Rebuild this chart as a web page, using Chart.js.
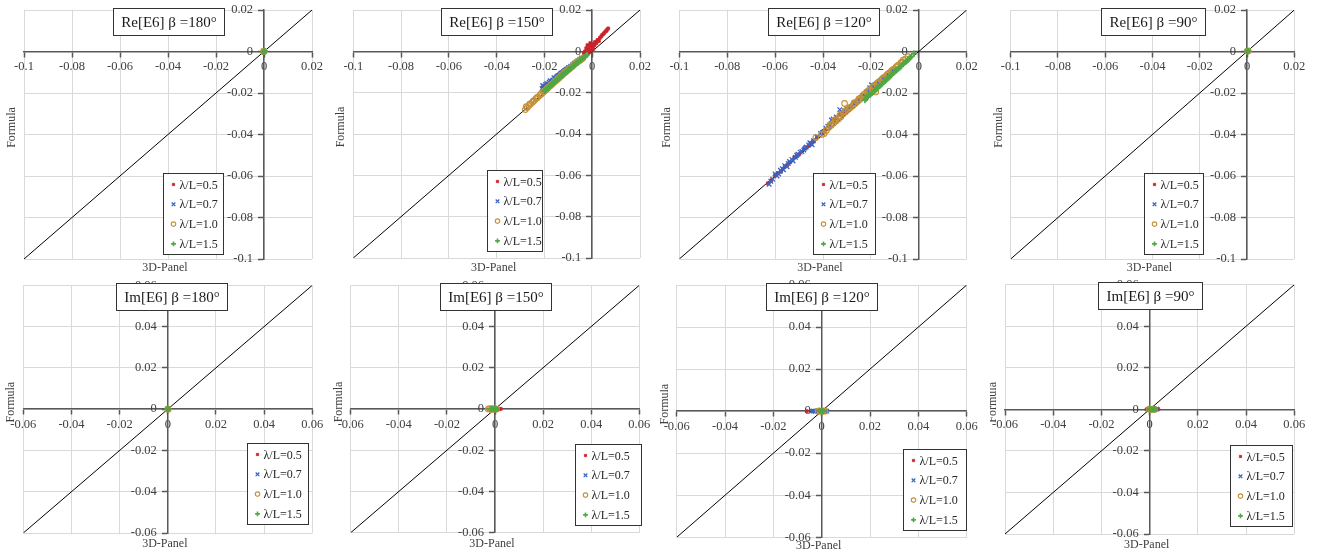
<!DOCTYPE html>
<html>
<head>
<meta charset="utf-8">
<script src="https://cdn.jsdelivr.net/npm/chart.js@4.4.1/dist/chart.umd.min.js"></script>
<style>
html, body { margin: 0; padding: 0; background: #fff; }
#wrap { position: relative; width: 1319px; height: 555px; overflow: hidden; }
#wrap canvas { position: absolute; }
</style>
</head>
<body>
<div id="wrap"></div>
<script>
// ---- data (x = 3D-Panel, y = Formula) ----
var seriesLabels = ['λ/L=0.5', 'λ/L=0.7', 'λ/L=1.0', 'λ/L=1.5'];
var panelTitles = ['Re[E6] β =180°', 'Re[E6] β =150°', 'Re[E6] β =120°', 'Re[E6] β =90°',
                   'Im[E6] β =180°', 'Im[E6] β =150°', 'Im[E6] β =120°', 'Im[E6] β =90°'];
var reRange = [-0.1, 0.02];
var imRange = [-0.06, 0.06];
var tickStep = 0.02;

// Re[E6], beta = 180
var re180_05 = [[0.0003, 0.0002], [-0.0002, 0.0001], [0.0001, -0.0002]];
var re180_07 = [[0.0002, -0.0001], [-0.0003, 0.0002]];
var re180_10 = [[0.0001, 0.0001], [-0.0002, -0.0001]];
var re180_15 = [[0, 0], [0.0003, 0.0002], [-0.0003, -0.0002]];

// Re[E6], beta = 150
var re150_05 = [[-0.0030, 0.0000], [-0.0025, 0.0015], [-0.0020, 0.0030], [-0.0015, 0.0010], [-0.0010, 0.0025],
  [-0.0008, 0.0040], [-0.0005, 0.0005], [0.0000, 0.0020], [0.0002, 0.0035], [0.0005, 0.0012], [0.0010, 0.0030],
  [0.0012, 0.0045], [0.0018, 0.0040], [0.0022, 0.0055], [0.0028, 0.0050], [0.0032, 0.0065], [0.0038, 0.0072],
  [0.0042, 0.0080], [0.0048, 0.0085], [0.0052, 0.0092], [0.0058, 0.0098], [0.0062, 0.0104], [0.0067, 0.0111],
  [-0.0035, -0.0008], [-0.0012, -0.0005]];
var re150_07 = [[-0.0210, -0.0180], [-0.0207, -0.0165], [-0.0205, -0.0170], [-0.0200, -0.0175], [-0.0198, -0.0168],
  [-0.0195, -0.0160], [-0.0190, -0.0155], [-0.0188, -0.0165], [-0.0183, -0.0158], [-0.0180, -0.0150],
  [-0.0176, -0.0142], [-0.0172, -0.0148], [-0.0168, -0.0144], [-0.0165, -0.0138], [-0.0160, -0.0128],
  [-0.0158, -0.0132], [-0.0153, -0.0130], [-0.0150, -0.0125], [-0.0146, -0.0120], [-0.0142, -0.0118],
  [-0.0138, -0.0116], [-0.0135, -0.0112], [-0.0131, -0.0106], [-0.0128, -0.0105], [-0.0124, -0.0102],
  [-0.0120, -0.0098], [-0.0116, -0.0094], [-0.0112, -0.0092], [-0.0108, -0.0088], [-0.0105, -0.0085],
  [-0.0100, -0.0080], [-0.0098, -0.0078], [-0.0090, -0.0072], [-0.0082, -0.0065], [-0.0075, -0.0058],
  [-0.0068, -0.0052], [-0.0060, -0.0045], [-0.0052, -0.0038], [-0.0045, -0.0032]];
var re150_10 = [[-0.0280, -0.0282], [-0.0276, -0.0268], [-0.0272, -0.0272], [-0.0265, -0.0262], [-0.0261, -0.0254],
  [-0.0258, -0.0255], [-0.0250, -0.0246], [-0.0246, -0.0240], [-0.0243, -0.0238], [-0.0236, -0.0230],
  [-0.0232, -0.0225], [-0.0228, -0.0222], [-0.0220, -0.0214], [-0.0216, -0.0208], [-0.0212, -0.0205],
  [-0.0205, -0.0198], [-0.0201, -0.0192], [-0.0197, -0.0190], [-0.0190, -0.0182], [-0.0186, -0.0176],
  [-0.0182, -0.0174], [-0.0175, -0.0166], [-0.0171, -0.0160], [-0.0167, -0.0158], [-0.0160, -0.0150],
  [-0.0156, -0.0145], [-0.0152, -0.0142], [-0.0145, -0.0135], [-0.0141, -0.0130], [-0.0137, -0.0127],
  [-0.0130, -0.0119], [-0.0126, -0.0114], [-0.0122, -0.0111], [-0.0115, -0.0104], [-0.0111, -0.0099],
  [-0.0107, -0.0096], [-0.0100, -0.0089], [-0.0096, -0.0084], [-0.0092, -0.0081], [-0.0085, -0.0074],
  [-0.0081, -0.0070], [-0.0077, -0.0066], [-0.0070, -0.0059], [-0.0066, -0.0055], [-0.0062, -0.0052],
  [-0.0055, -0.0046], [-0.0051, -0.0043], [-0.0047, -0.0040], [-0.0040, -0.0034]];
var re150_15 = [[-0.0200, -0.0192], [-0.0196, -0.0190], [-0.0192, -0.0184], [-0.0188, -0.0178], [-0.0185, -0.0176],
  [-0.0181, -0.0174], [-0.0177, -0.0168], [-0.0170, -0.0160], [-0.0166, -0.0158], [-0.0162, -0.0152],
  [-0.0158, -0.0148], [-0.0155, -0.0145], [-0.0151, -0.0142], [-0.0147, -0.0137], [-0.0140, -0.0130],
  [-0.0136, -0.0127], [-0.0132, -0.0122], [-0.0128, -0.0117], [-0.0125, -0.0115], [-0.0121, -0.0112],
  [-0.0117, -0.0107], [-0.0110, -0.0100], [-0.0106, -0.0098], [-0.0102, -0.0092], [-0.0098, -0.0088],
  [-0.0095, -0.0085], [-0.0091, -0.0083], [-0.0087, -0.0078], [-0.0080, -0.0070], [-0.0076, -0.0068],
  [-0.0072, -0.0063], [-0.0068, -0.0060], [-0.0065, -0.0056], [-0.0061, -0.0053], [-0.0057, -0.0049],
  [-0.0050, -0.0042], [-0.0046, -0.0040], [-0.0042, -0.0035], [-0.0035, -0.0029], [-0.0031, -0.0027],
  [-0.0028, -0.0023], [-0.0022, -0.0018]];

// Re[E6], beta = 120
var re120_05 = [[-0.0630, -0.0635], [-0.0615, -0.0620], [-0.0600, -0.0595], [-0.0588, -0.0585], [-0.0575, -0.0580],
  [-0.0560, -0.0555], [-0.0550, -0.0548], [-0.0540, -0.0535], [-0.0520, -0.0510], [-0.0510, -0.0505],
  [-0.0500, -0.0495], [-0.0480, -0.0470], [-0.0470, -0.0462], [-0.0460, -0.0455], [-0.0450, -0.0440],
  [-0.0440, -0.0430], [-0.0425, -0.0412], [-0.0410, -0.0395], [-0.0400, -0.0385], [-0.0390, -0.0375],
  [-0.0375, -0.0355], [-0.0360, -0.0340], [-0.0345, -0.0322], [-0.0330, -0.0305], [-0.0315, -0.0292],
  [-0.0300, -0.0280], [-0.0285, -0.0265], [-0.0270, -0.0250], [-0.0255, -0.0235], [-0.0240, -0.0220],
  [-0.0228, -0.0208], [-0.0215, -0.0195], [-0.0200, -0.0182], [-0.0190, -0.0170], [-0.0175, -0.0158],
  [-0.0160, -0.0145], [-0.0145, -0.0130], [-0.0130, -0.0115]];
var re120_07 = [[-0.0625, -0.0640], [-0.0618, -0.0625], [-0.0610, -0.0615], [-0.0600, -0.0590], [-0.0592, -0.0600],
  [-0.0585, -0.0590], [-0.0578, -0.0572], [-0.0570, -0.0565], [-0.0565, -0.0570], [-0.0560, -0.0550],
  [-0.0550, -0.0555], [-0.0545, -0.0540], [-0.0540, -0.0530], [-0.0530, -0.0520], [-0.0525, -0.0528],
  [-0.0515, -0.0510], [-0.0510, -0.0500], [-0.0505, -0.0495], [-0.0495, -0.0485], [-0.0488, -0.0482],
  [-0.0480, -0.0475], [-0.0475, -0.0465], [-0.0470, -0.0460], [-0.0460, -0.0450], [-0.0455, -0.0440],
  [-0.0450, -0.0445], [-0.0445, -0.0450], [-0.0440, -0.0430], [-0.0425, -0.0410], [-0.0410, -0.0395],
  [-0.0402, -0.0390], [-0.0395, -0.0385], [-0.0388, -0.0370], [-0.0380, -0.0360], [-0.0372, -0.0355],
  [-0.0365, -0.0330], [-0.0358, -0.0325], [-0.0350, -0.0335], [-0.0345, -0.0315], [-0.0340, -0.0320],
  [-0.0330, -0.0280], [-0.0325, -0.0300], [-0.0318, -0.0295], [-0.0310, -0.0285], [-0.0302, -0.0275],
  [-0.0295, -0.0280], [-0.0288, -0.0270], [-0.0280, -0.0265], [-0.0272, -0.0250], [-0.0265, -0.0245],
  [-0.0258, -0.0240], [-0.0250, -0.0230], [-0.0242, -0.0222], [-0.0235, -0.0215], [-0.0228, -0.0210],
  [-0.0220, -0.0195], [-0.0212, -0.0190], [-0.0205, -0.0175], [-0.0198, -0.0160], [-0.0190, -0.0165],
  [-0.0182, -0.0160], [-0.0175, -0.0155], [-0.0168, -0.0148], [-0.0160, -0.0140], [-0.0152, -0.0130],
  [-0.0145, -0.0125], [-0.0138, -0.0120], [-0.0130, -0.0110], [-0.0122, -0.0102], [-0.0115, -0.0095],
  [-0.0108, -0.0090], [-0.0100, -0.0085]];
var re120_10 = [[-0.0430, -0.0415], [-0.0405, -0.0400], [-0.0395, -0.0395], [-0.0385, -0.0380], [-0.0375, -0.0365],
  [-0.0370, -0.0352], [-0.0365, -0.0355], [-0.0355, -0.0345], [-0.0350, -0.0330], [-0.0345, -0.0335],
  [-0.0335, -0.0325], [-0.0330, -0.0308], [-0.0325, -0.0315], [-0.0315, -0.0300], [-0.0310, -0.0250],
  [-0.0310, -0.0288], [-0.0305, -0.0290], [-0.0295, -0.0280], [-0.0290, -0.0270], [-0.0285, -0.0270],
  [-0.0275, -0.0260], [-0.0270, -0.0248], [-0.0265, -0.0250], [-0.0255, -0.0240], [-0.0250, -0.0228],
  [-0.0245, -0.0230], [-0.0235, -0.0215], [-0.0230, -0.0208], [-0.0225, -0.0205], [-0.0215, -0.0195],
  [-0.0210, -0.0188], [-0.0205, -0.0185], [-0.0195, -0.0175], [-0.0190, -0.0168], [-0.0185, -0.0165],
  [-0.0180, -0.0195], [-0.0175, -0.0155], [-0.0170, -0.0150], [-0.0165, -0.0145], [-0.0155, -0.0135],
  [-0.0150, -0.0130], [-0.0145, -0.0125], [-0.0135, -0.0115], [-0.0130, -0.0110], [-0.0125, -0.0105],
  [-0.0115, -0.0095], [-0.0110, -0.0090], [-0.0105, -0.0085], [-0.0095, -0.0075], [-0.0090, -0.0070],
  [-0.0085, -0.0065], [-0.0075, -0.0055], [-0.0070, -0.0050], [-0.0065, -0.0042], [-0.0055, -0.0035],
  [-0.0045, -0.0025]];
var re120_15 = [[-0.0225, -0.0235], [-0.0220, -0.0228], [-0.0215, -0.0220], [-0.0210, -0.0210], [-0.0205, -0.0210],
  [-0.0200, -0.0206], [-0.0195, -0.0200], [-0.0185, -0.0190], [-0.0180, -0.0186], [-0.0175, -0.0178],
  [-0.0170, -0.0168], [-0.0165, -0.0168], [-0.0160, -0.0164], [-0.0155, -0.0158], [-0.0145, -0.0146],
  [-0.0140, -0.0142], [-0.0135, -0.0136], [-0.0130, -0.0128], [-0.0125, -0.0125], [-0.0120, -0.0120],
  [-0.0115, -0.0114], [-0.0105, -0.0103], [-0.0100, -0.0098], [-0.0095, -0.0092], [-0.0090, -0.0085],
  [-0.0085, -0.0082], [-0.0080, -0.0078], [-0.0075, -0.0072], [-0.0065, -0.0060], [-0.0060, -0.0056],
  [-0.0055, -0.0050], [-0.0050, -0.0045], [-0.0045, -0.0040], [-0.0040, -0.0034], [-0.0035, -0.0028],
  [-0.0030, -0.0024], [-0.0020, -0.0010]];

// Re[E6], beta = 90
var re90_05 = [[0.0004, 0.0002], [0.0001, -0.0001]];
var re90_07 = [[0.0003, 0.0001], [-0.0001, 0.0001]];
var re90_10 = [[0.0002, 0.0002], [0.0005, 0.0003]];
var re90_15 = [[0.0002, 0.0001], [0.0005, 0.0002], [0, 0]];

// Im[E6], beta = 180
var im180_05 = [[0.0002, 0], [-0.0001, 0.0001]];
var im180_07 = [[0.0001, 0], [-0.0002, 0]];
var im180_10 = [[0, 0.0001], [0.0002, -0.0001]];
var im180_15 = [[0, 0], [0.0002, 0.0001], [-0.0002, 0]];

// Im[E6], beta = 150
var im150_05 = [[0.0008, 0.0001], [0.0012, 0.0000], [0.0018, -0.0001], [0.0024, 0.0001]];
var im150_07 = [[-0.0012, 0.0001], [-0.0006, -0.0001], [0.0000, 0.0000], [0.0006, 0.0001]];
var im150_10 = [[-0.0028, 0.0000], [-0.0022, 0.0002], [-0.0016, -0.0002], [-0.0010, 0.0002], [-0.0004, -0.0001],
  [0.0002, 0.0001], [0.0007, 0.0000]];
var im150_15 = [[-0.0018, 0.0000], [-0.0012, 0.0001], [-0.0006, -0.0001], [0.0000, 0.0001], [0.0004, 0.0000],
  [0.0008, -0.0001]];

// Im[E6], beta = 120
var im120_05 = [[-0.0062, 0.0000], [-0.0040, 0.0001], [0.0008, 0.0000]];
var im120_07 = [[-0.0041, 0.0000], [-0.0034, 0.0001], [-0.0027, -0.0001], [-0.0020, 0.0001], [-0.0013, 0.0000],
  [-0.0006, -0.0001], [0.0001, 0.0001], [0.0008, 0.0000], [0.0015, 0.0001], [0.0021, 0.0000]];
var im120_10 = [[-0.0015, 0.0000], [-0.0008, 0.0002], [-0.0001, -0.0001], [0.0006, 0.0001], [0.0013, 0.0000]];
var im120_15 = [[-0.0008, 0.0000], [-0.0003, 0.0001], [0.0002, -0.0001], [0.0007, 0.0000]];

// Im[E6], beta = 90
var im90_05 = [[-0.0012, 0.0000], [0.0000, 0.0001], [0.0015, -0.0001], [0.0028, 0.0000], [0.0036, 0.0001]];
var im90_07 = [[-0.0006, 0.0000], [0.0004, 0.0001], [0.0014, -0.0001], [0.0022, 0.0000], [0.0029, 0.0001]];
var im90_10 = [[-0.0002, 0.0001], [0.0006, -0.0001], [0.0014, 0.0001], [0.0022, 0.0000]];
var im90_15 = [[0.0000, 0.0000], [0.0006, 0.0001], [0.0012, -0.0001], [0.0018, 0.0000], [0.0022, 0.0001]];

// ---- layout / style ----
var serif = "'Liberation Serif', 'Times New Roman', serif";
var markerStyles = [
  { pointStyle: 'rect', pointRadius: 2, pointBackgroundColor: '#CC2229', pointBorderColor: '#CC2229', pointBorderWidth: 0.8 },
  { pointStyle: 'crossRot', pointRadius: 3.2, pointBackgroundColor: '#3A64C0', pointBorderColor: '#3A64C0', pointBorderWidth: 1.3 },
  { pointStyle: 'circle', pointRadius: 2.8, pointBackgroundColor: 'rgba(255,255,255,0)', pointBorderColor: '#C4913A', pointBorderWidth: 1.1 },
  { pointStyle: 'cross', pointRadius: 3, pointBackgroundColor: '#4EA844', pointBorderColor: '#4EA844', pointBorderWidth: 1.6 }
];

var panels = [
  { title: panelTitles[0], series: [re180_05, re180_07, re180_10, re180_15], range: reRange,
    box: [0, 0, 330, 278], pad: { left: 24, right: 18, top: 10, bottom: 19 }, legend: [163, 173, 60], xTitleGap: 9 },
  { title: panelTitles[1], series: [re150_05, re150_07, re150_10, re150_15], range: reRange,
    box: [330, 0, 330, 278], pad: { left: 23.3, right: 20, top: 10, bottom: 20 }, legend: [156.7, 170, 55], xTitleGap: 10 },
  { title: panelTitles[2], series: [re120_05, re120_07, re120_10, re120_15], range: reRange,
    box: [660, 0, 330, 278], pad: { left: 19.3, right: 23.3, top: 10, bottom: 19 }, legend: [153.3, 173, 61.7], xTitleGap: 9 },
  { title: panelTitles[3], series: [re90_05, re90_07, re90_10, re90_15], range: reRange,
    box: [990, 0, 329, 278], pad: { left: 20.7, right: 24.7, top: 10, bottom: 19 }, legend: [154, 172.7, 58.7], xTitleGap: 9 },
  { title: panelTitles[4], series: [im180_05, im180_07, im180_10, im180_15], range: imRange, titleDx: 4,
    box: [0, 278, 330, 277], pad: { left: 23.3, right: 17.7, top: 7.3, bottom: 22 }, legend: [247.3, 165, 61], xTitleGap: 11 },
  { title: panelTitles[5], series: [im150_05, im150_07, im150_10, im150_15], range: imRange,
    box: [330, 278, 330, 277], pad: { left: 20.7, right: 20.7, top: 7.3, bottom: 22.3 }, legend: [245, 165.7, 66], xTitleGap: 11 },
  { title: panelTitles[6], series: [im120_05, im120_07, im120_10, im120_15], range: imRange,
    box: [660, 278, 330, 277], pad: { left: 16.7, right: 23.3, top: 7, bottom: 17.7 }, legend: [242.7, 171, 63.3], xTitleGap: 9 },
  { title: panelTitles[7], series: [im90_05, im90_07, im90_10, im90_15], range: imRange,
    box: [990, 278, 329, 277], pad: { left: 15, right: 24.7, top: 6.7, bottom: 21 }, legend: [240, 167.3, 61.7], xTitleGap: 11 }
];

// title box, legend box and the two axis names
var panelDecor = {
  id: 'panelDecor',
  afterDraw: function (chart, args, o) {
    var ctx = chart.ctx, a = chart.chartArea;
    ctx.save();

    ctx.fillStyle = '#404040';
    ctx.font = '12px ' + serif;
    ctx.textAlign = 'center';
    ctx.textBaseline = 'middle';
    ctx.fillText('3D-Panel', (a.left + a.right) / 2 - 3, a.bottom + o.xTitleGap);
    ctx.save();
    ctx.translate(a.left - 12, (a.top + a.bottom) / 2 - 7);
    ctx.rotate(-Math.PI / 2);
    ctx.fillText('Formula', 0, 0);
    ctx.restore();

    // title
    ctx.font = '15px ' + serif;
    var tw = ctx.measureText(o.title).width;
    var bw = Math.round(tw + 16), bh = 27;
    var cx = (a.left + a.right) / 2 + (o.titleDx || 0);
    var bx = Math.round(cx - bw / 2) + 0.5, by = Math.round(a.top - 2.5) + 0.5;
    ctx.fillStyle = '#fff';
    ctx.fillRect(bx, by, bw, bh);
    ctx.strokeStyle = '#333';
    ctx.lineWidth = 1;
    ctx.strokeRect(bx, by, bw, bh);
    ctx.fillStyle = '#1a1a1a';
    ctx.fillText(o.title, bx + bw / 2, by + bh / 2 + 1);

    // legend
    var lx = Math.round(o.legend[0]) + 0.5, ly = Math.round(o.legend[1]) + 0.5;
    var lw = Math.round(o.legend[2]), lh = 81;
    ctx.fillStyle = '#fff';
    ctx.fillRect(lx, ly, lw, lh);
    ctx.strokeStyle = '#333';
    ctx.strokeRect(lx, ly, lw, lh);
    ctx.font = '12px ' + serif;
    ctx.textAlign = 'left';
    chart.data.datasets.forEach(function (ds, k) {
      if (k > 3) return;
      var ry = ly + 11 + k * 19.8;
      ctx.fillStyle = ds.pointBackgroundColor;
      ctx.strokeStyle = ds.pointBorderColor;
      ctx.lineWidth = ds.pointBorderWidth;
      Chart.helpers.drawPoint(ctx, {
        pointStyle: ds.pointStyle, radius: ds.pointRadius * 0.8,
        borderWidth: ds.pointBorderWidth, rotation: 0
      }, lx + 10, ry);
      ctx.fillStyle = '#262626';
      ctx.fillText(ds.label, lx + 16, ry + 1);
    });
    ctx.restore();
  }
};

// y labels of a value-positioned axis sit on the axis line; push them left of the ticks
function shiftYLabels(s, dx) {
  if (s._labelShift || typeof s._computeLabelItems !== 'function') return;
  var orig = s._computeLabelItems;
  s._computeLabelItems = function (ca) {
    var items = orig.call(this, ca);
    items.forEach(function (it) {
      if (it.options && it.options.translation) it.options.translation[0] -= dx;
    });
    return items;
  };
  s._labelShift = true;
}

function axisCfg(range, axis) {
  return {
    type: 'linear',
    min: range[0],
    max: range[1],
    position: axis === 'x' ? { y: 0 } : { x: 0 },
    afterFit: function (s) {
      if (axis === 'x') s.height = 0;
      else { s.width = 0; shiftYLabels(s, 11); }
      s.paddingLeft = s.paddingRight = s.paddingTop = s.paddingBottom = 0;
    },
    ticks: {
      stepSize: tickStep,
      autoSkip: false,
      maxRotation: 0,
      color: '#404040',
      padding: 3,
      font: { family: serif, size: 12.5 },
      callback: function (v) { return String(+v.toFixed(2)); }
    },
    grid: { color: '#d9d9d9', lineWidth: 1, tickLength: 5, tickColor: '#595959', tickWidth: 1.5 },
    border: { color: '#595959', width: 1.5 }
  };
}

var wrap = document.getElementById('wrap');
panels.forEach(function (p) {
  var cv = document.createElement('canvas');
  cv.width = p.box[2];
  cv.height = p.box[3];
  cv.style.left = p.box[0] + 'px';
  cv.style.top = p.box[1] + 'px';
  cv.style.width = p.box[2] + 'px';
  cv.style.height = p.box[3] + 'px';
  wrap.appendChild(cv);

  var datasets = p.series.map(function (pts, k) {
    return Object.assign({
      label: seriesLabels[k],
      data: pts.map(function (q) { return { x: q[0], y: q[1] }; }),
      order: 4 - k
    }, markerStyles[k]);
  });
  // 1:1 reference line
  datasets.push({
    label: 'y=x',
    data: [{ x: p.range[0], y: p.range[0] }, { x: p.range[1], y: p.range[1] }],
    showLine: true, borderColor: '#000', borderWidth: 1, pointRadius: 0, order: 10
  });

  new Chart(cv, {
    type: 'scatter',
    data: { datasets: datasets },
    options: {
      responsive: false,
      animation: false,
      events: [],
      layout: { padding: p.pad },
      scales: { x: axisCfg(p.range, 'x'), y: axisCfg(p.range, 'y') },
      plugins: {
        legend: { display: false },
        tooltip: { enabled: false },
        panelDecor: { title: p.title, legend: p.legend, titleDx: p.titleDx, xTitleGap: p.xTitleGap }
      }
    },
    plugins: [panelDecor]
  });
});
</script>
</body>
</html>
